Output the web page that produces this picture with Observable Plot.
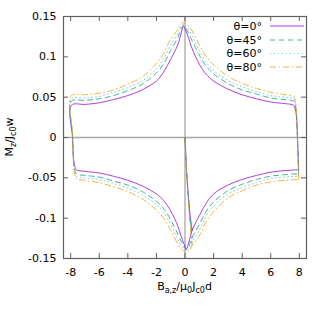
<!DOCTYPE html>
<html><head><meta charset="utf-8">
<script src="https://cdn.jsdelivr.net/npm/d3@7"></script>
<script src="https://cdn.jsdelivr.net/npm/@observablehq/plot@0.6"></script>
<style>body{margin:0;background:#fff}</style>
</head><body><div id="chart"></div>
<script>
const angles = ["θ=0°", "θ=45°", "θ=60°", "θ=80°"];
const colors = ["#9400d3", "#009e73", "#56b4e9", "#e69f00"];
const dashes = [null, "5,4", "1,3", "6,3,1,3"];

// full hysteresis loop: lower end at +7.95 -> upper branch (decreasing field) -> lower branch (increasing field)
const loopX = [7.95, 7.87, 7.79, 7.7, 7.6, 7, 6, 5, 4, 3, 2, 1.5, 1, 0.5, 0.2, 0, -0.1, -0.2, -0.35, -0.5, -1, -1.5, -2, -3, -4, -5, -6, -7, -7.95,
  -7.87, -7.79, -7.7, -7.6, -7, -6, -5, -4, -3, -2, -1.5, -1, -0.5, -0.2, 0, 0.1, 0.2, 0.35, 0.5, 1, 1.5, 2, 3, 4, 5, 6, 7, 7.95];
const loop0 = [-0.040, 0.000, 0.027, 0.036, 0.040, 0.042, 0.044, 0.048, 0.053, 0.060, 0.070, 0.078, 0.091, 0.110, 0.126, 0.135, 0.138, 0.134, 0.124, 0.115, 0.097, 0.081, 0.070, 0.059, 0.052, 0.047, 0.043, 0.041, 0.040,
  0.000, -0.027, -0.036, -0.040, -0.042, -0.044, -0.048, -0.053, -0.060, -0.070, -0.078, -0.091, -0.110, -0.126, -0.135, -0.138, -0.134, -0.124, -0.115, -0.097, -0.081, -0.070, -0.059, -0.052, -0.047, -0.043, -0.041, -0.040];
const loop45 = [-0.045, -0.003, 0.030, 0.041, 0.045, 0.047, 0.049, 0.054, 0.059, 0.067, 0.079, 0.088, 0.102, 0.120, 0.131, 0.137, 0.139, 0.137, 0.131, 0.124, 0.108, 0.091, 0.080, 0.066, 0.058, 0.052, 0.048, 0.046, 0.045,
  0.003, -0.030, -0.041, -0.045, -0.047, -0.049, -0.054, -0.059, -0.067, -0.079, -0.088, -0.102, -0.120, -0.131, -0.137, -0.139, -0.137, -0.131, -0.124, -0.108, -0.091, -0.080, -0.066, -0.058, -0.052, -0.048, -0.046, -0.045];
const loop60 = [-0.048, -0.005, 0.032, 0.044, 0.048, 0.050, 0.052, 0.057, 0.063, 0.071, 0.083, 0.093, 0.108, 0.126, 0.135, 0.139, 0.141, 0.139, 0.135, 0.129, 0.115, 0.097, 0.085, 0.070, 0.062, 0.056, 0.051, 0.049, 0.048,
  0.005, -0.032, -0.044, -0.048, -0.050, -0.052, -0.057, -0.063, -0.071, -0.083, -0.093, -0.108, -0.126, -0.135, -0.139, -0.141, -0.139, -0.135, -0.129, -0.115, -0.097, -0.085, -0.070, -0.062, -0.056, -0.051, -0.049, -0.048];
const loop80 = [-0.052, -0.006, 0.035, 0.047, 0.051, 0.053, 0.056, 0.061, 0.067, 0.076, 0.090, 0.100, 0.115, 0.132, 0.139, 0.142, 0.143, 0.142, 0.139, 0.134, 0.122, 0.104, 0.092, 0.075, 0.066, 0.059, 0.055, 0.053, 0.052,
  0.006, -0.035, -0.047, -0.051, -0.053, -0.056, -0.061, -0.067, -0.076, -0.090, -0.100, -0.115, -0.132, -0.139, -0.142, -0.143, -0.142, -0.139, -0.134, -0.122, -0.104, -0.092, -0.075, -0.066, -0.059, -0.055, -0.053, -0.052];

// initial (virgin) curves from the origin
const virginX = [0, 0.08, 0.16, 0.25, 0.35, 0.5];
const virgin0 = [0, -0.030, -0.054, -0.075, -0.095, -0.115];
const virgin45 = [0, -0.031, -0.056, -0.078, -0.100, -0.124];
const virgin60 = [0, -0.032, -0.058, -0.081, -0.104, -0.129];
const virgin80 = [0, -0.033, -0.060, -0.084, -0.108, -0.134];

const xTicks = [-8, -6, -4, -2, 0, 2, 4, 6, 8];
const xTickLabels = ["-8", "-6", "-4", "-2", "0", "2", "4", "6", "8"];
const yTicks = [-0.15, -0.1, -0.05, 0, 0.05, 0.1, 0.15];
const yTickLabels = ["-0.15", "-0.1", "-0.05", "0", "0.05", "0.1", "0.15"];

const loops = [loop0, loop45, loop60, loop80];
const virgins = [virgin0, virgin45, virgin60, virgin80];

const W = 321, H = 314, mL = 63, mR = 15, mT = 16, mB = 56;
const pw = W - mL - mR, ph = H - mT - mB;
const font = "'DejaVu Sans', sans-serif";
const frameColor = "#606060";

const seriesMarks = [];
angles.forEach((a, i) => {
  const loopRows = loopX.map((x, j) => ({x, y: loops[i][j], s: a}));
  const virginRows = virginX.map((x, j) => ({x, y: virgins[i][j], s: a}));
  const opts = {x: "x", y: "y", stroke: colors[i], strokeWidth: 1, strokeOpacity: 0.75, curve: "catmull-rom"};
  if (dashes[i]) opts.strokeDasharray = dashes[i];
  seriesMarks.push(Plot.line(loopRows, opts));
  seriesMarks.push(Plot.line(virginRows, opts));
});

const svg = Plot.plot({
  width: W, height: H,
  marginLeft: mL, marginRight: mR, marginTop: mT, marginBottom: mB,
  style: {fontFamily: font, fontSize: "11px", background: "#fff", color: "#000"},
  x: {domain: [-8.5, 8.5]},
  y: {domain: [-0.15, 0.15]},
  marks: [
    Plot.ruleY([0], {stroke: "#a8a8a8", strokeWidth: 1.3}),
    Plot.ruleX([0], {stroke: "#a8a8a8", strokeWidth: 1.3}),
    ...seriesMarks,
    Plot.tickX(xTicks, {x: d => d, insetTop: ph - 5, stroke: frameColor}),
    Plot.tickX(xTicks, {x: d => d, insetBottom: ph - 5, stroke: frameColor}),
    Plot.tickY(yTicks, {y: d => d, insetRight: pw - 5, stroke: frameColor}),
    Plot.tickY(yTicks, {y: d => d, insetLeft: pw - 5, stroke: frameColor}),
    Plot.frame({stroke: frameColor, strokeWidth: 1.2}),
    Plot.axisX(xTicks, {anchor: "bottom", tickSize: 0, tickPadding: 10, label: null, fill: "#000",
      tickFormat: d => xTickLabels[xTicks.indexOf(d)]}),
    Plot.axisY(yTicks, {anchor: "left", tickSize: 0, tickPadding: 7, label: null, fill: "#000",
      tickFormat: d => yTickLabels[yTicks.indexOf(d)]})
  ]
});

const root = d3.select(svg);
function addLabel(t, parts) {
  let inSub = false;
  parts.forEach(([txt, sub]) => {
    const ts = t.append("tspan").text(txt);
    if (sub) { ts.attr("font-size", 8).attr("dy", inSub ? 0 : 3); }
    else { ts.attr("dy", inSub ? -3 : 0); }
    inSub = sub;
  });
}
// x label
const xl = root.append("text").attr("x", mL + pw / 2).attr("y", 290).attr("text-anchor", "middle")
  .attr("font-family", font).attr("font-size", 11).attr("fill", "#000");
addLabel(xl, [["B", false], ["a,z", true], ["/μ", false], ["0", true], ["J", false], ["c0", true], ["d", false]]);
// y label
const yl = root.append("text").attr("transform", `translate(13,${mT + ph / 2}) rotate(-90)`).attr("text-anchor", "middle")
  .attr("font-family", font).attr("font-size", 11).attr("fill", "#000");
addLabel(yl, [["M", false], ["z", true], ["/J", false], ["c0", true], ["w", false]]);

// legend
const legY = [26, 40, 53.5, 67];
angles.forEach((a, i) => {
  root.append("text").attr("x", 262).attr("y", legY[i]).attr("dy", "0.35em").attr("text-anchor", "end")
    .attr("font-family", font).attr("font-size", 11).attr("fill", "#000").text(a);
  const ln = root.append("line").attr("x1", 270).attr("x2", 304).attr("y1", legY[i]).attr("y2", legY[i])
    .attr("stroke", colors[i]).attr("stroke-width", 1).attr("stroke-opacity", 0.75);
  if (dashes[i]) ln.attr("stroke-dasharray", dashes[i]);
});

document.getElementById("chart").appendChild(svg);
</script>
</body></html>
